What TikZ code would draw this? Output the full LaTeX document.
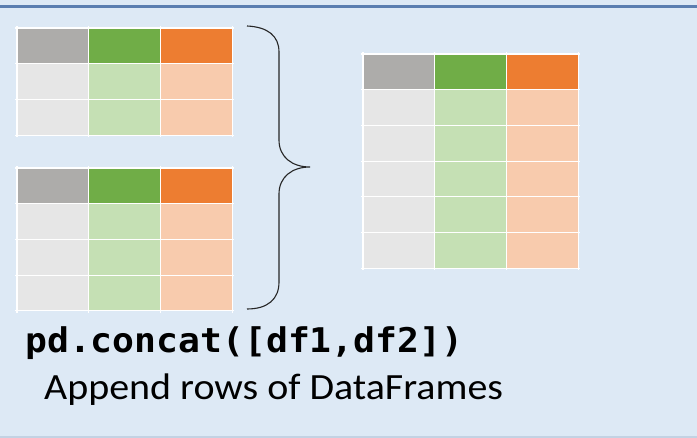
\documentclass[tikz,border=0pt]{standalone}
\usepackage{fontspec}
\usepackage{tikz}
\usetikzlibrary{calc, positioning}

\newfontfamily\codefont{DejaVu Sans Mono}
\newfontfamily\notefont{Carlito}

\definecolor{bgblue}{HTML}{DDE9F5}
\definecolor{barblue}{HTML}{5A7EB0}
\definecolor{edgeblue}{HTML}{C3D2E3}
\definecolor{hdgray}{HTML}{ADACAA}
\definecolor{hdgreen}{HTML}{70AD47}
\definecolor{hdorange}{HTML}{ED7D31}
\definecolor{bdgray}{HTML}{E6E6E6}
\definecolor{bdgreen}{HTML}{C5E0B4}
\definecolor{bdorange}{HTML}{F8CBAD}

% one DataFrame: #1 = left, #2 = top, #3 = body rows
\newcommand{\dframe}[3]{%
  \fill[hdgray]   (#1,#2) rectangle ++(71.7,35.7);
  \fill[hdgreen]  (#1+71.7,#2) rectangle ++(71.7,35.7);
  \fill[hdorange] (#1+143.4,#2) rectangle ++(71.7,35.7);
  \fill[bdgray]   (#1,#2+35.7) rectangle ++(71.7,{35.7*#3});
  \fill[bdgreen]  (#1+71.7,#2+35.7) rectangle ++(71.7,{35.7*#3});
  \fill[bdorange] (#1+143.4,#2+35.7) rectangle ++(71.7,{35.7*#3});
  \foreach \c in {0,...,3}
    \draw[gridline] ({#1+71.7*\c},#2-2) -- ++(0,{35.7*(#3+1)+4});
  \foreach \r in {0,...,#3,\numexpr#3+1\relax}
    \draw[gridline] (#1-2,{#2+35.7*\r}) -- ++(219.1,0);
}

\begin{document}
\begin{tikzpicture}[x=1pt, y=-1pt,
    gridline/.style={white, line width=1.1pt},
    brace/.style={black!85, line width=1.1pt},
    code/.style={inner sep=0pt, anchor=base west, font=\codefont\bfseries\fontsize{34}{38}\selectfont},
    note/.style={inner sep=0pt, anchor=base west, font=\notefont\fontsize{37}{42}\selectfont}]
        \useasboundingbox (0,0) rectangle (697,438);
        \fill[bgblue] (0,0) rectangle (697,438);
        \fill[barblue] (0,5) rectangle (697,8);
        \fill[edgeblue] (0,436) rectangle (697,438);

        % df1, df2 and the result
        \dframe{17}{28}{2}
        \dframe{17}{168}{3}
        \dframe{363}{54}{5}

        % the brace joining df1 and df2
        \coordinate (tip) at (310,167);
        \draw[brace] (247,26) .. controls (268,27) and (279,36) .. (279,52)
            -- (279,140) .. controls (279,157) and (292,167) .. (tip)
            .. controls (292,167) and (279,177) .. (279,194)
            -- (279,282) .. controls (279,299) and (268,309) .. (247,309);

        \node[code, xscale=1.07] (call) at (25,353) {pd.concat([df1,df2])};
        \node[note, xscale=1.08] (caption) at (44,400) {Append rows of DataFrames};
    \end{tikzpicture}
\end{document}
